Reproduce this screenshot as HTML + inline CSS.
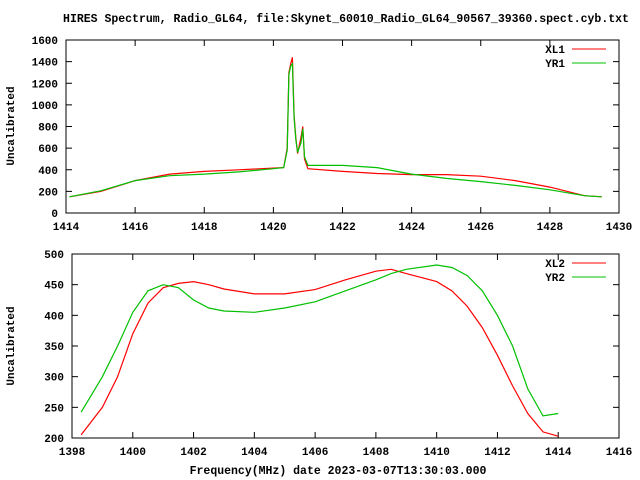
<!DOCTYPE html>
<html><head><meta charset="utf-8"><style>
body{margin:0;background:#fff}
svg{display:block}
text{font-family:"Liberation Mono",monospace;font-weight:bold;font-size:11px;fill:#000}
</style></head><body>
<svg id="c" width="640" height="480" xmlns="http://www.w3.org/2000/svg">
<text x="346" y="22" text-anchor="middle" style="font-size:11.5px">HIRES Spectrum, Radio_GL64, file:Skynet_60010_Radio_GL64_90567_39360.spect.cyb.txt</text>
<text x="338" y="474" text-anchor="middle" style="font-size:11.5px">Frequency(MHz) date 2023-03-07T13:30:03.000</text>
<text transform="translate(14,126) rotate(-90)" text-anchor="middle">Uncalibrated</text>
<text transform="translate(14,346) rotate(-90)" text-anchor="middle">Uncalibrated</text>
<g id="p1"></g>
<g id="p2"></g>
</svg>
<script>
const topFreq=[1414.1,1415,1416,1417,1418,1419,1420,1420.3,1420.4,1420.45,1420.5,1420.55,1420.6,1420.65,1420.7,1420.8,1420.85,1420.9,1421,1422,1423,1424,1425,1426,1427,1428,1429,1429.5];
const xl1=[150,200,300,360,385,400,415,420,600,1300,1380,1440,900,700,550,700,800,500,410,385,365,355,355,340,300,240,160,150];
const yr1=[150,205,300,345,360,380,410,420,580,1280,1360,1380,880,680,560,650,780,520,440,440,420,360,320,290,255,215,160,150];
const botFreq=[1398.3,1399,1399.5,1400,1400.5,1401,1401.5,1402,1402.5,1403,1404,1405,1406,1407,1408,1408.5,1409,1410,1410.5,1411,1411.5,1412,1412.5,1413,1413.5,1414];
const xl2=[205,250,300,370,420,445,452,455,450,443,435,435,442,458,472,475,468,455,440,415,380,335,285,240,210,203];
const yr2=[242,300,350,405,440,450,445,425,412,407,405,412,422,440,458,468,475,482,478,465,440,400,350,280,236,240];
const topXTicks=[1414,1416,1418,1420,1422,1424,1426,1428,1430];
const topYTicks=[0,200,400,600,800,1000,1200,1400,1600];
const botXTicks=[1398,1400,1402,1404,1406,1408,1410,1412,1414,1416];
const botYTicks=[200,250,300,350,400,450,500];
const NS="http://www.w3.org/2000/svg";
function mk(g,t,a){const e=document.createElementNS(NS,t);for(const k in a)e.setAttribute(k,a[k]);g.appendChild(e);return e;}
function plot(g,L,R,T,B,x0,x1,y0,y1,xt,yt,fx,series,names){
 const sx=v=>L+(v-x0)/(x1-x0)*(R-L), sy=v=>B-(v-y0)/(y1-y0)*(B-T);
 xt.forEach(v=>{const x=sx(v);
  const t=mk(g,'line',{x1:x,x2:x,y1:B,y2:B-6,stroke:'#000'});
  
  mk(g,'line',{x1:x,x2:x,y1:T,y2:T+6,stroke:'#000'});
  const l=mk(g,'text',{x:x,y:B+17,'text-anchor':'middle'});l.textContent=v;
  });
 yt.forEach(v=>{const y=sy(v);
  const t=mk(g,'line',{x1:L,x2:L+6,y1:y,y2:y,stroke:'#000'});
  
  mk(g,'line',{x1:R,x2:R-6,y1:y,y2:y,stroke:'#000'});
  const l=mk(g,'text',{x:L-8,y:y+4,'text-anchor':'end'});l.textContent=v;
  });
 const box=mk(g,'rect',{x:L,y:T,width:R-L,height:B-T,fill:'none',stroke:'#000'});
 
 const cols=['#ff0000','#00c000'];
 series.forEach((s,i)=>{
  const d=fx.map((f,j)=>(j?'L':'M')+sx(f).toFixed(1)+','+sy(s[j]).toFixed(1)).join('');
  const p=mk(g,'path',{d:d,fill:'none',stroke:cols[i],'stroke-width':1.2});
  
  const ly=T+9+i*14;
  const lt=mk(g,'text',{x:565,y:ly+4,'text-anchor':'end'});lt.textContent=names[i];
  
  const ll=mk(g,'line',{x1:572,x2:606,y1:ly,y2:ly,stroke:cols[i]});
  
 });
}
plot(document.getElementById('p1'),66,619,40,213,1414,1430,0,1600,topXTicks,topYTicks,topFreq,[xl1,yr1],['XL1','YR1']);
plot(document.getElementById('p2'),72,619,254,438,1398,1416,200,500,botXTicks,botYTicks,botFreq,[xl2,yr2],['XL2','YR2']);
</script>
</body></html>
